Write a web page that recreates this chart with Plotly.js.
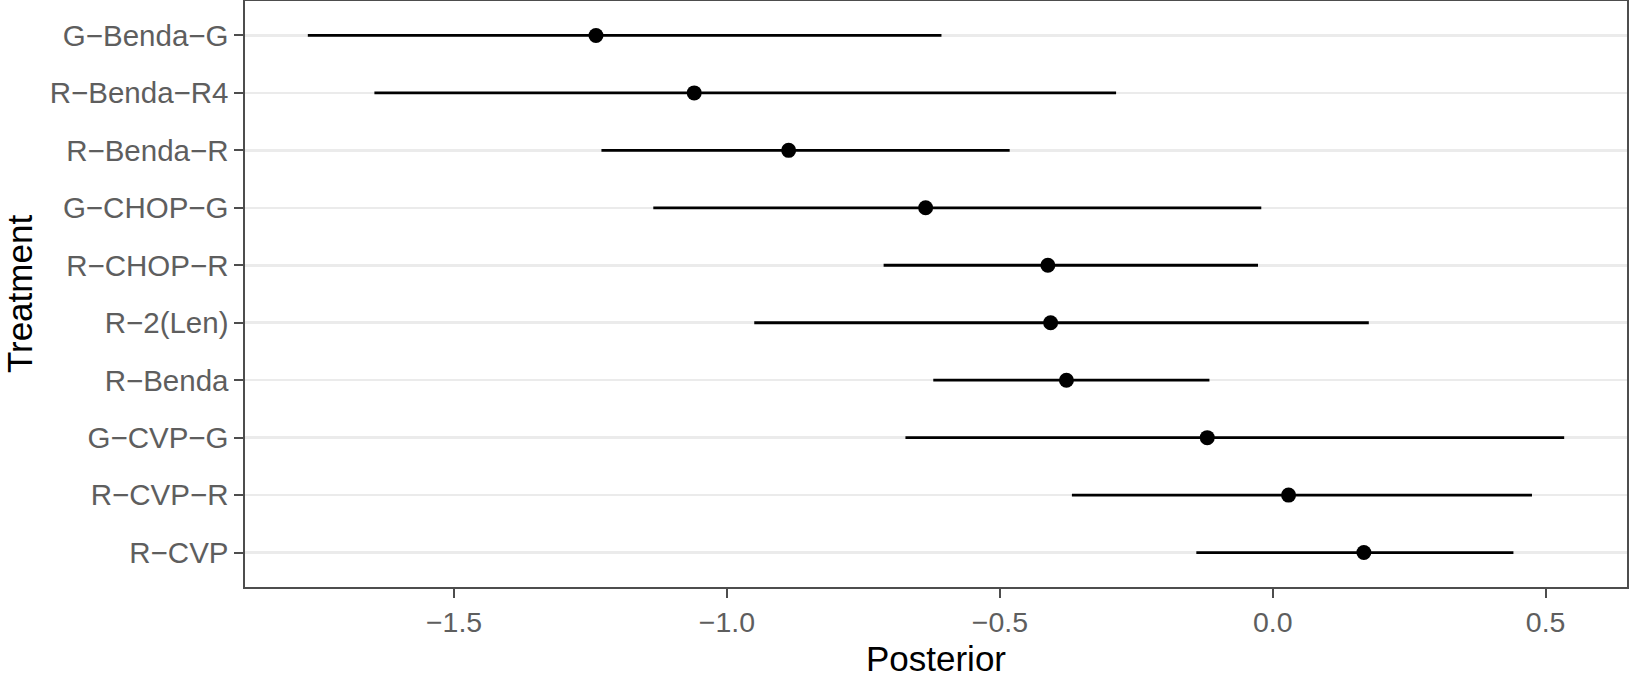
<!DOCTYPE html>
<html>
<head>
<meta charset="utf-8">
<script src="https://cdn.plot.ly/plotly-3.0.1.min.js"></script>
<style>
  html, body { margin: 0; padding: 0; background: #ffffff; }
  #chart { width: 1629px; height: 685px; }
</style>
</head>
<body>
<div id="chart"></div>
<script>
// Treatments, top to bottom as shown
const treatments = ["G\u2212Benda\u2212G", "R\u2212Benda\u2212R4", "R\u2212Benda\u2212R", "G\u2212CHOP\u2212G", "R\u2212CHOP\u2212R",
                    "R\u22122(Len)", "R\u2212Benda", "G\u2212CVP\u2212G", "R\u2212CVP\u2212R", "R\u2212CVP"];
const posterior = [-1.240, -1.060, -0.887, -0.636, -0.412, -0.407, -0.378, -0.120, 0.029, 0.167];
const lower     = [-1.768, -1.646, -1.230, -1.135, -0.713, -0.950, -0.622, -0.673, -0.368, -0.140];
const upper     = [-0.607, -0.287, -0.482, -0.021, -0.027, 0.176, -0.116, 0.534, 0.475, 0.441];

const xTickVals = [-1.5, -1.0, -0.5, 0.0, 0.5];
const xTickText = ["\u22121.5", "\u22121.0", "\u22120.5", "0.0", "0.5"];

const plusArr = upper.map((u, i) => u - posterior[i]);
const minusArr = lower.map((l, i) => posterior[i] - l);

const trace = {
  type: "scatter",
  mode: "markers",
  x: posterior,
  y: treatments,
  marker: { color: "#000000", size: 15 },
  error_x: {
    type: "data",
    symmetric: false,
    array: plusArr,
    arrayminus: minusArr,
    color: "#000000",
    thickness: 2.8,
    width: 0
  },
  hoverinfo: "x+y",
  showlegend: false
};

// data extent with 5% padding (ggplot-like)
const dmin = Math.min(...lower), dmax = Math.max(...upper);
const pad = (dmax - dmin) * 0.05;

const layout = {
  width: 1629,
  height: 685,
  paper_bgcolor: "#ffffff",
  plot_bgcolor: "#ffffff",
  margin: { l: 245, r: 2, t: 1, b: 98, pad: 0 },
  font: { family: "Liberation Sans, Arial, sans-serif", color: "#000000" },
  xaxis: {
    range: [dmin - pad, dmax + pad],
    tickmode: "array",
    tickvals: xTickVals,
    ticktext: xTickText,
    showgrid: false,
    zeroline: false,
    ticks: "outside",
    ticklen: 9,
    tickwidth: 2,
    tickcolor: "#4d4d4d",
    tickfont: { size: 28.5, color: "#5e5e5e" },
    showline: true,
    mirror: true,
    linecolor: "#4d4d4d",
    linewidth: 1.6,
    title: { text: "Posterior", font: { size: 35, color: "#000000" }, standoff: 10 }
  },
  yaxis: {
    type: "category",
    categoryorder: "array",
    categoryarray: treatments.slice().reverse(),
    range: [-0.6, 9.6],
    showgrid: true,
    gridcolor: "#ebebeb",
    gridwidth: 2.5,
    zeroline: false,
    ticks: "outside",
    ticklen: 9,
    tickwidth: 2,
    tickcolor: "#4d4d4d",
    ticklabelstandoff: 0,
    tickfont: { size: 29.5, color: "#5e5e5e" },
    showline: true,
    mirror: true,
    linecolor: "#4d4d4d",
    linewidth: 1.6,
    title: { text: "Treatment", font: { size: 35, color: "#000000" }, standoff: 8 }
  }
};

Plotly.newPlot("chart", [trace], layout, { displayModeBar: false, staticPlot: true });
</script>
</body>
</html>
